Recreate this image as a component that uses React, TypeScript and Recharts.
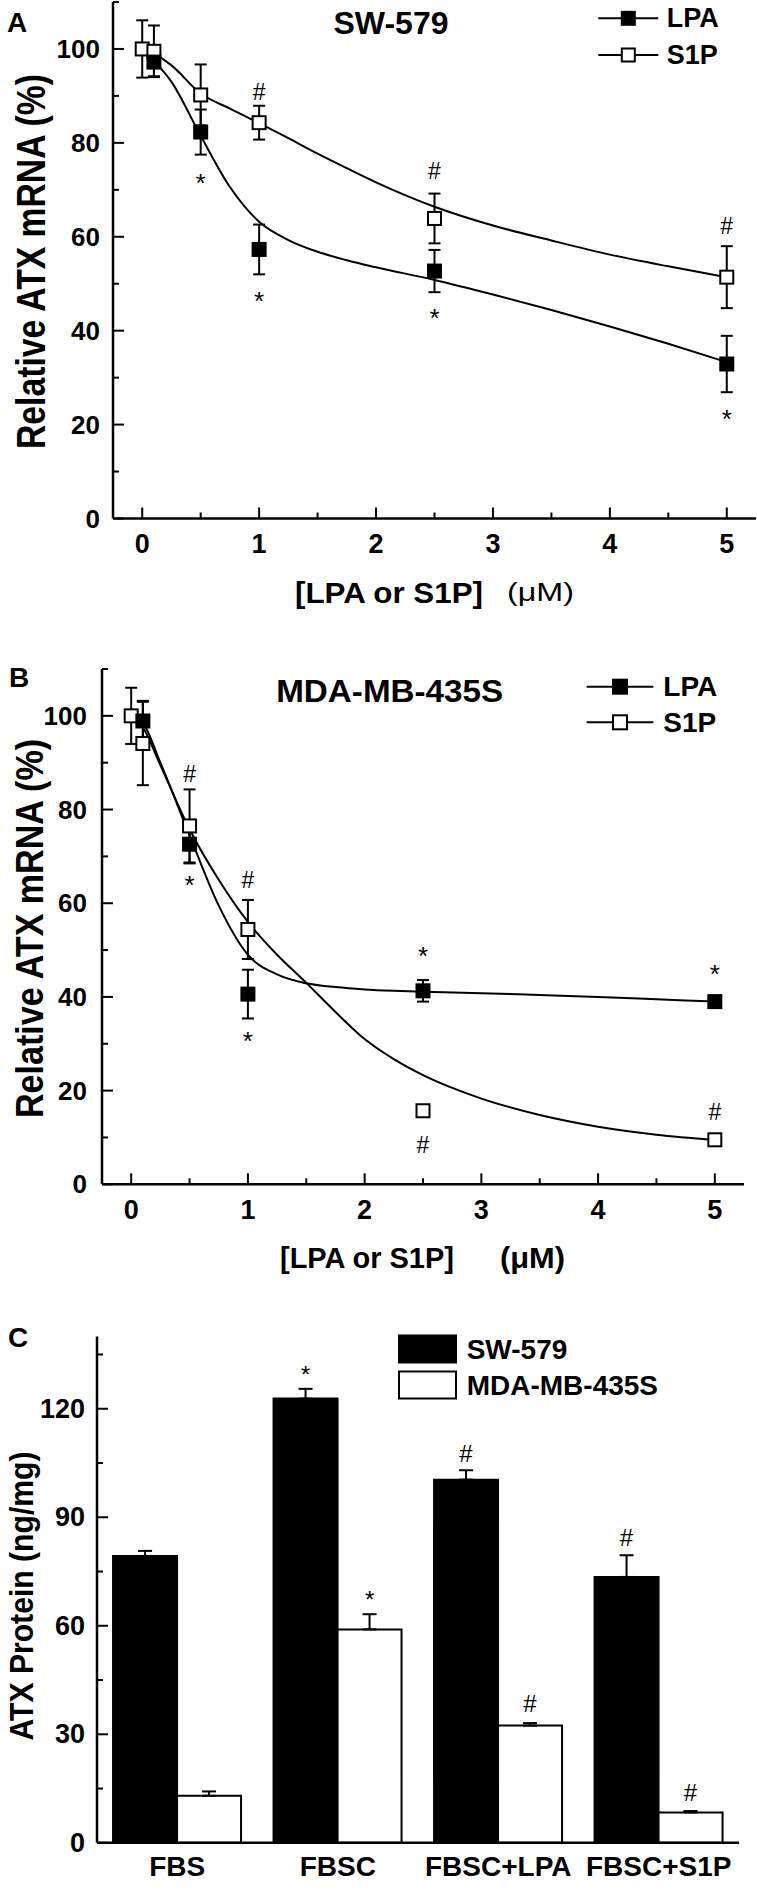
import React from 'react';
import {
  ComposedChart, BarChart, Bar, Line, Scatter, XAxis, YAxis, ErrorBar, Legend, LabelList,
} from 'recharts';

const FONT = "'Liberation Sans', Arial, Helvetica, sans-serif";

// ---- panel A: SW-579 ----
const doseA_LPA = [0.1, 0.5, 1, 2.5, 5];
const lpaA = [97.2, 82.3, 57.3, 52.7, 32.9];
const lpaErrA = [3, 4.8, 5.3, 4.5, 6];
const doseA_S1P = [0, 0.1, 0.5, 1, 2.5, 5];
const s1pA = [100, 99.5, 90.2, 84.3, 63.9, 51.4];
const s1pErrA = [6.1, 5.5, 6.5, 3.6, 5.3, 6.6];
// fitted curves
const fitDoseA = [0, 0.1, 0.25, 0.5, 0.75, 1, 1.25, 1.5, 1.75, 2, 2.5, 3, 3.5, 4, 4.5, 5];
const lpaFitA = [100, 97.5, 93, 81.5, 70.6, 63.2, 59.3, 56.8, 55.0, 53.5, 50.8, 47.7, 44.4, 40.9, 37.2, 33.3];
const s1pFitA = [100, 99, 96.5, 90.5, 87.3, 84.2, 81, 77.7, 74.6, 71.6, 66.4, 62.4, 59.2, 56.2, 53.7, 51.4];
const starDoseA = [0.5, 1, 2.5, 5];
const starYA = [72.7, 47.5, 44.0, 22.4];
const hashDoseA = [1, 2.5, 5];
const hashYA = [90.8, 74.1, 62.4];

// ---- panel B: MDA-MB-435S ----
const doseB_LPA = [0.1, 0.5, 1, 2.5, 5];
const lpaB = [98.9, 72.6, 40.6, 41.3, 39.0];
const lpaErrB = [4.3, 4.1, 5.2, 2.3, 1];
const doseB_S1P = [0, 0.1, 0.5, 1, 2.5, 5];
const s1pB = [100, 94.1, 76.5, 54.4, 15.7, 9.5];
const s1pErrB = [6, 8.9, 7.8, 6.3, 0, 0];
const fitDoseB = [0, 0.1, 0.25, 0.5, 0.75, 1, 1.25, 1.5, 1.75, 2, 2.25, 2.5, 3, 3.5, 4, 4.5, 5];
const lpaFitB = [100, 98.5, 90, 74.5, 59.5, 49, 44.8, 42.9, 42.1, 41.6, 41.3, 41.1, 40.8, 40.4, 40.0, 39.5, 39.0];
const s1pFitB = [100, 97.5, 89.5, 75.8, 65, 56, 49, 43, 36.8, 31, 26.7, 23.3, 18.3, 14.8, 12.3, 10.6, 9.5];
const starDoseB = [0.5, 1, 2.5, 5];
const starYB = [65.1, 31.9, 50.0, 46.1];
const hashDoseB = [0.5, 1, 2.5, 5];
const hashYB = [87.5, 65.0, 8.4, 15.5];

// ---- panel C: ATX protein ----
const groups = ['FBS', 'FBSC', 'FBSC+LPA', 'FBSC+S1P'];
const swProtein = [79.3, 122.8, 100.4, 73.5];
const swProteinErr = [1.4, 2.7, 2.6, 6];
const mdaProtein = [13, 59, 32.4, 8.4];
const mdaProteinErr = [1.2, 4.2, 0.7, 0.4];
const swMarks = ['', '*', '#', '#'];
const swMarkY = [0, 131, 107.7, 84.4];
const mdaMarks = ['', '*', '#', '#'];
const mdaMarkY = [0, 68.8, 38.5, 13.9];

const doseTicks = [0, 0.5, 1, 1.5, 2, 2.5, 3, 3.5, 4, 4.5, 5];
const pctTicks = [0, 10, 20, 30, 40, 50, 60, 70, 80, 90, 100, 110];
const proteinTicks = [0, 15, 30, 45, 60, 75, 90, 105, 120, 135];

const rows = (xs: number[], ys: number[], err?: number[]) =>
  xs.map((x, i) => ({ x, y: ys[i], e: err ? err[i] : 0 }));

const barRows = groups.map((g, i) => ({
  g,
  sw: swProtein[i],
  swErr: [0, swProteinErr[i]],
  mda: mdaProtein[i],
  mdaErr: [0, mdaProteinErr[i]],
}));

const yTick = (major: (v: number) => boolean, margin: number, size: number) => (p: any) => {
  const v = p.payload.value;
  const ax = p.x + margin;
  const maj = major(v);
  return (
    <g>
      <line x1={ax} x2={ax + (maj ? 11 : 6)} y1={p.y} y2={p.y} stroke="#000" strokeWidth={2} />
      {maj && (
        <text x={p.x} y={p.y} textAnchor="end" dominantBaseline="central"
          fontFamily={FONT} fontWeight="bold" fontSize={size} fill="#000">{v}</text>
      )}
    </g>
  );
};

const xTick = (major: (v: number) => boolean, margin: number, size: number, lines = true) => (p: any) => {
  const v = p.payload.value;
  const ay = p.y - margin;
  const maj = major(v);
  return (
    <g>
      {lines && <line x1={p.x} x2={p.x} y1={ay} y2={ay - (maj ? 11 : 6)} stroke="#000" strokeWidth={2} />}
      {maj && (
        <text x={p.x} y={p.y} textAnchor="middle" dominantBaseline="central"
          fontFamily={FONT} fontWeight="bold" fontSize={size} fill="#000">{v}</text>
      )}
    </g>
  );
};

const markShape = (s: string, fs: number) => (p: any) => (
  <text x={p.cx} y={p.cy + fs * (s === '*' ? 0.57 : 0.35)} textAnchor="middle"
    fontFamily={FONT} fontSize={fs} fill="#000">{s}</text>
);

const square = (fill: string, size: number) => (p: any) => (
  <rect x={p.cx - size / 2} y={p.cy - size / 2} width={size} height={size}
    fill={fill} stroke="#000" strokeWidth={2} />
);

const markerFill: Record<string, string> = { LPA: '#000', S1P: '#fff' };
const lineLegend = (o: { rows: number[]; x1: number; x2: number; sq: number; tx: number; fs: number }) =>
  (props: any) => {
    const items = (props.payload || [])
      .filter((it: any) => it.value in markerFill)
      .sort((a: any, b: any) => (a.value > b.value ? 1 : -1));
    const cx = (o.x1 + o.x2) / 2;
    return (
      <svg width={170} height={100} style={{ display: 'block', overflow: 'visible' }}>
        {items.map((it: any, i: number) => (
          <g key={it.value}>
            <line x1={o.x1} x2={o.x2} y1={o.rows[i]} y2={o.rows[i]} stroke="#000" strokeWidth={2} />
            <rect x={cx - o.sq / 2} y={o.rows[i] - o.sq / 2} width={o.sq} height={o.sq}
              fill={markerFill[it.value]} stroke="#000" strokeWidth={2} />
            <text x={o.tx} y={o.rows[i]} dominantBaseline="central" fontFamily={FONT}
              fontWeight="bold" fontSize={o.fs} fill="#000">{it.value}</text>
          </g>
        ))}
      </svg>
    );
  };

const barOrder = ['SW-579', 'MDA-MB-435S'];
const barFill: Record<string, string> = { 'SW-579': '#000', 'MDA-MB-435S': '#fff' };
const barLegend = (props: any) => {
  const items = (props.payload || [])
    .filter((it: any) => it.value in barFill)
    .sort((a: any, b: any) => barOrder.indexOf(a.value) - barOrder.indexOf(b.value));
  return (
    <svg width={260} height={80} style={{ display: 'block', overflow: 'visible' }}>
      {items.map((it: any, i: number) => (
        <g key={it.value}>
          <rect x={1} y={5.5 + i * 36} width={57} height={27} fill={barFill[it.value]} stroke="#000" strokeWidth={2} />
          <text x={68.7} y={19 + i * 36} dominantBaseline="central" fontFamily={FONT}
            fontWeight="bold" fontSize={28} fill="#000">{it.value}</text>
        </g>
      ))}
    </svg>
  );
};

const barMark = (marks: string[], markY: number[], vals: number[], fs: number) => (p: any) => {
  const vb = p.viewBox ?? p;
  const i = p.index;
  const s = marks[i];
  if (!s || !vb) return null;
  const px = vb.height / vals[i];
  const cy = vb.y + vb.height - markY[i] * px;
  return (
    <text x={vb.x + vb.width / 2} y={cy + fs * (s === '*' ? 0.57 : 0.35)} textAnchor="middle"
      fontFamily={FONT} fontSize={fs} fill="#000">{s}</text>
  );
};

const isInt = (v: number) => Number.isInteger(v);
const pctMajor = (v: number) => v % 20 === 0 && v <= 100;
const axisStyle = { stroke: '#000', strokeWidth: 2.5 };

function DosePanel(props: {
  top: number; height: number; margin: any; yWidth: number; xHeight: number;
  lpa: any[]; s1p: any[]; lpaFit: any[]; s1pFit: any[]; stars: any[]; hashes: any[];
  yTickMargin: number; xTickMargin: number; legend: any; legendPos: any; children?: any;
}) {
  return (
    <div style={{ position: 'absolute', left: 0, top: props.top }}>
      <ComposedChart width={757} height={props.height} margin={props.margin}>
        <XAxis type="number" dataKey="x" domain={[-0.25, 5.25]} ticks={doseTicks} interval={0}
          height={props.xHeight} axisLine={axisStyle} tickLine={false} tickSize={0}
          tickMargin={props.xTickMargin} tick={xTick(isInt, props.xTickMargin, 27)} allowDataOverflow />
        <YAxis type="number" dataKey="y" domain={[0, 110]} ticks={pctTicks} interval={0}
          width={props.yWidth} axisLine={axisStyle} tickLine={false} tickSize={0}
          tickMargin={props.yTickMargin} tick={yTick(pctMajor, props.yTickMargin, 26)} allowDataOverflow />
        <Legend layout="vertical" align="center" verticalAlign="middle"
          wrapperStyle={props.legendPos} content={props.legend} />
        <Line data={props.lpaFit} dataKey="y" type="monotone" stroke="#000" strokeWidth={2}
          dot={false} activeDot={false} legendType="none" isAnimationActive={false} />
        <Line data={props.s1pFit} dataKey="y" type="monotone" stroke="#000" strokeWidth={2}
          dot={false} activeDot={false} legendType="none" isAnimationActive={false} />
        <Scatter name="S1P" data={props.s1p} dataKey="y" fill="#fff" shape={square('#fff', 13)} isAnimationActive={false}>
          <ErrorBar dataKey="e" direction="y" width={6} stroke="#000" strokeWidth={2} isAnimationActive={false} />
        </Scatter>
        <Scatter name="LPA" data={props.lpa} dataKey="y" fill="#000" shape={square('#000', 13)} isAnimationActive={false}>
          <ErrorBar dataKey="e" direction="y" width={6} stroke="#000" strokeWidth={2} isAnimationActive={false} />
        </Scatter>
        <Scatter data={props.stars} dataKey="y" legendType="none" shape={markShape('*', 26)} isAnimationActive={false} />
        <Scatter data={props.hashes} dataKey="y" legendType="none" shape={markShape('#', 23)} isAnimationActive={false} />
        {props.children}
      </ComposedChart>
    </div>
  );
}

export default function App() {
  return (
    <div style={{ position: 'absolute', left: 0, top: 0, width: 757, height: 1893, background: '#fff' }}>
      <DosePanel
        top={0} height={610} margin={{ top: 2, right: 1, left: 0, bottom: 0 }}
        yWidth={113} xHeight={91.5} yTickMargin={13} xTickMargin={25}
        lpa={rows(doseA_LPA, lpaA, lpaErrA)} s1p={rows(doseA_S1P, s1pA, s1pErrA)}
        lpaFit={rows(fitDoseA, lpaFitA)} s1pFit={rows(fitDoseA, s1pFitA)}
        stars={rows(starDoseA, starYA)} hashes={rows(hashDoseA, hashYA)}
        legend={lineLegend({ rows: [18.3, 55], x1: 0.3, x2: 60.3, sq: 13, tx: 68.7, fs: 27 })}
        legendPos={{ left: 598, top: 0, width: 170, height: 100 }}
      >
        <text x={17} y={22} textAnchor="middle" dominantBaseline="central" fontFamily={FONT}
          fontWeight="bold" fontSize={28}>A</text>
        <text x={391} y={23.3} textAnchor="middle" dominantBaseline="central" fontFamily={FONT}
          fontWeight="bold" fontSize={32}>SW-579</text>
        <text transform="translate(31,261.5) rotate(-90)" textAnchor="middle" dominantBaseline="central"
          fontFamily={FONT} fontWeight="bold" fontSize={40} textLength={375} lengthAdjust="spacingAndGlyphs">
          Relative ATX mRNA (%)
        </text>
        <text x={295} y={592} dominantBaseline="central" fontFamily={FONT} fontWeight="bold"
          fontSize={30} textLength={188} lengthAdjust="spacingAndGlyphs">[LPA or S1P]</text>
        <text x={507} y={592} dominantBaseline="central" fontFamily={FONT}
          fontSize={26} textLength={67} lengthAdjust="spacingAndGlyphs">(μM)</text>
      </DosePanel>

      <DosePanel
        top={630} height={660} margin={{ top: 39, right: 13, left: 0, bottom: 0 }}
        yWidth={102} xHeight={105.7} yTickMargin={15} xTickMargin={26}
        lpa={rows(doseB_LPA, lpaB, lpaErrB)} s1p={rows(doseB_S1P, s1pB, s1pErrB)}
        lpaFit={rows(fitDoseB, lpaFitB)} s1pFit={rows(fitDoseB, s1pFitB)}
        stars={rows(starDoseB, starYB)} hashes={rows(hashDoseB, hashYB)}
        legend={lineLegend({ rows: [26.7, 62.3], x1: 0.7, x2: 67.3, sq: 14, tx: 77.3, fs: 28 })}
        legendPos={{ left: 586, top: 30, width: 170, height: 100 }}
      >
        <text x={19} y={47} textAnchor="middle" dominantBaseline="central" fontFamily={FONT}
          fontWeight="bold" fontSize={28}>B</text>
        <text x={389.7} y={61} textAnchor="middle" dominantBaseline="central" fontFamily={FONT}
          fontWeight="bold" fontSize={32} textLength={227} lengthAdjust="spacingAndGlyphs">MDA-MB-435S</text>
        <text transform="translate(29,298.5) rotate(-90)" textAnchor="middle" dominantBaseline="central"
          fontFamily={FONT} fontWeight="bold" fontSize={39} textLength={379} lengthAdjust="spacingAndGlyphs">
          Relative ATX mRNA (%)
        </text>
        <text x={280} y={627.6} dominantBaseline="central" fontFamily={FONT} fontWeight="bold"
          fontSize={30} textLength={174} lengthAdjust="spacingAndGlyphs">[LPA or S1P]</text>
        <text x={500} y={627.6} dominantBaseline="central" fontFamily={FONT} fontWeight="bold"
          fontSize={30} textLength={65} lengthAdjust="spacingAndGlyphs">(μM)</text>
      </DosePanel>

      <div style={{ position: 'absolute', left: 0, top: 1290 }}>
        <BarChart width={757} height={603} data={barRows}
          margin={{ top: 46.4, right: 18, left: 0, bottom: 0 }} barCategoryGap="10%" barGap={0}>
          <XAxis dataKey="g" height={50.2} axisLine={axisStyle} tickLine={false} tickSize={0}
            tickMargin={24} interval={0} tick={xTick(() => true, 24, 28, false)} />
          <YAxis type="number" domain={[0, 140]} ticks={proteinTicks} interval={0} width={97}
            axisLine={axisStyle} tickLine={false} tickSize={0} tickMargin={12}
            tick={yTick((v) => v % 30 === 0, 12, 27)} allowDataOverflow />
          <Legend layout="vertical" align="center" verticalAlign="middle"
            wrapperStyle={{ left: 398, top: 40, width: 260, height: 80 }} content={barLegend} />
          <Bar name="SW-579" dataKey="sw" fill="#000" stroke="#000" strokeWidth={2} isAnimationActive={false}>
            <ErrorBar dataKey="swErr" direction="y" width={7} stroke="#000" strokeWidth={2} isAnimationActive={false} />
            <LabelList dataKey="sw" content={barMark(swMarks, swMarkY, swProtein, 24)} />
          </Bar>
          <Bar name="MDA-MB-435S" dataKey="mda" fill="#fff" stroke="#000" strokeWidth={2} isAnimationActive={false}>
            <ErrorBar dataKey="mdaErr" direction="y" width={7} stroke="#000" strokeWidth={2} isAnimationActive={false} />
            <LabelList dataKey="mda" content={barMark(mdaMarks, mdaMarkY, mdaProtein, 24)} />
          </Bar>
          <text x={18} y={47} textAnchor="middle" dominantBaseline="central" fontFamily={FONT}
            fontWeight="bold" fontSize={28}>C</text>
          <text transform="translate(21,306) rotate(-90)" textAnchor="middle" dominantBaseline="central"
            fontFamily={FONT} fontWeight="bold" fontSize={34} textLength={289} lengthAdjust="spacingAndGlyphs">
            ATX Protein (ng/mg)
          </text>
        </BarChart>
      </div>
    </div>
  );
}
